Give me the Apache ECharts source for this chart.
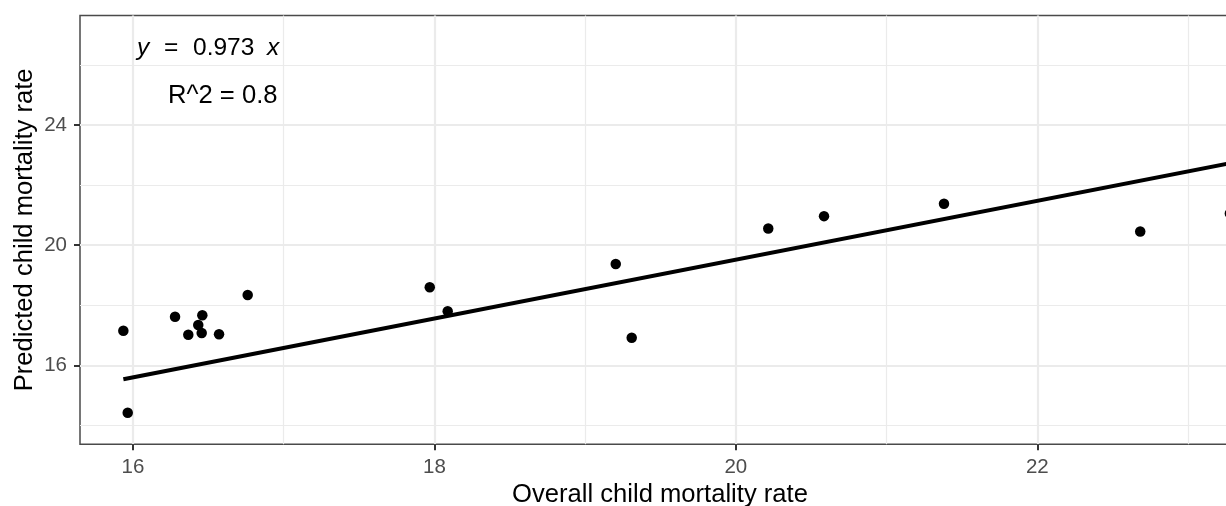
<!DOCTYPE html>
<html>
<head>
<meta charset="utf-8">
<script src="https://cdn.jsdelivr.net/npm/echarts@6/dist/echarts.min.js"></script>
<style>
html,body{margin:0;padding:0;background:#fff;}
#chart{width:1226px;height:506px;}
</style>
</head>
<body>
<div id="chart"></div>
<script>
// Observed data (overall vs predicted child mortality rate)
const overallRate = [15.936, 15.965, 16.279, 16.367, 16.433, 16.460, 16.456, 16.571, 16.761, 17.969, 18.088, 19.203, 19.309, 20.215, 20.585, 21.381, 22.683, 23.278];
const predictedRate = [17.152, 14.422, 17.618, 17.019, 17.342, 17.664, 17.075, 17.032, 18.340, 18.597, 17.798, 19.372, 16.919, 20.556, 20.965, 21.378, 20.456, 21.050];
// Fitted line end points
const fitX = [15.936, 23.278];
const fitY = [15.534, 22.728];
// Axis ticks
const xTicks = [16, 18, 20, 22];
const yTicks = [16, 20, 24];
const xTitle = 'Overall child mortality rate';
const yTitle = 'Predicted child mortality rate';
const eqParts = ['y', '=', '0.973', 'x'];
const r2Label = 'R^2 = 0.8';

const FONT = 'Liberation Sans, Arial, sans-serif';
const chart = echarts.init(document.getElementById('chart'), null, {renderer: 'canvas'});

const axisCommon = {
  type: 'value',
  axisLine: {show: false},
  axisTick: {show: true, length: 6, lineStyle: {color: '#333333', width: 2}},
  splitLine: {show: true, lineStyle: {color: '#EBEBEB', width: 2.2}},
  minorTick: {show: false, splitNumber: 2},
  minorSplitLine: {show: true, lineStyle: {color: '#EBEBEB', width: 1.2}},
  nameLocation: 'middle',
  nameMoveOverlap: false,
  nameTextStyle: {color: '#000000', fontSize: 25.6, fontFamily: FONT}
};

chart.setOption({
  animation: false,
  backgroundColor: '#ffffff',
  grid: {
    left: 80, top: 15.5, width: 1160, height: 428.7,
    outerBoundsMode: 'none', containLabel: false,
    show: true, borderColor: '#4a4a4a', borderWidth: 1.5, backgroundColor: 'transparent'
  },
  xAxis: Object.assign({}, axisCommon, {
    min: 15.6484, max: 23.345, minInterval: 2, maxInterval: 2,
    name: xTitle, nameGap: 37.5,
    axisTick: Object.assign({}, axisCommon.axisTick, {customValues: xTicks}),
    axisLabel: {customValues: xTicks, margin: 13, color: '#4D4D4D', fontSize: 20.5, fontFamily: FONT}
  }),
  yAxis: Object.assign({}, axisCommon, {
    min: 13.3735, max: 27.645, minInterval: 4, maxInterval: 4,
    name: yTitle, nameGap: 42, nameRotate: 90,
    axisTick: Object.assign({}, axisCommon.axisTick, {customValues: yTicks}),
    axisLabel: {customValues: yTicks, margin: 13, color: '#4D4D4D', fontSize: 20.5, fontFamily: FONT}
  }),
  series: [
    {
      type: 'line',
      data: fitX.map((x, i) => [x, fitY[i]]),
      showSymbol: false,
      lineStyle: {color: '#000000', width: 4, cap: 'butt'},
      z: 3,
      silent: true
    },
    {
      type: 'scatter',
      data: overallRate.map((x, i) => [x, predictedRate[i]]),
      symbol: 'circle',
      symbolSize: 10.5,
      itemStyle: {color: '#000000', opacity: 1},
      z: 4,
      silent: true
    }
  ],
  graphic: [
    {type: 'text', left: 137, top: 36, style: {text: eqParts[0], fontSize: 24.5, fontStyle: 'italic', fontFamily: FONT, fill: '#000'}},
    {type: 'text', left: 164, top: 36, style: {text: eqParts[1], fontSize: 24.5, fontFamily: FONT, fill: '#000'}},
    {type: 'text', left: 193, top: 36, style: {text: eqParts[2], fontSize: 24.5, fontFamily: FONT, fill: '#000'}},
    {type: 'text', left: 267, top: 36, style: {text: eqParts[3], fontSize: 24.5, fontStyle: 'italic', fontFamily: FONT, fill: '#000'}},
    {type: 'text', left: 168, top: 83, style: {text: r2Label, fontSize: 25.6, fontFamily: FONT, fill: '#000'}}
  ]
});
</script>
</body>
</html>
